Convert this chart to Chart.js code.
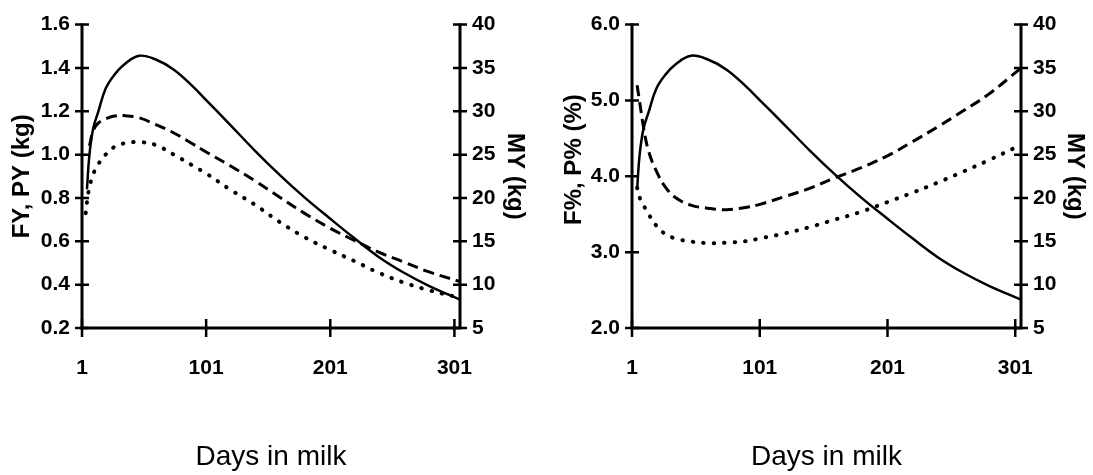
<!DOCTYPE html>
<html>
<head>
<meta charset="utf-8">
<script src="https://cdn.jsdelivr.net/npm/chart.js@4.4.1/dist/chart.umd.min.js"></script>
<style>
  html, body { margin: 0; padding: 0; background: #fff; }
  #wrap { position: relative; width: 1093px; height: 475px; }
  #izq { position: absolute; left: 0; top: 0; }
  #der { position: absolute; left: 546px; top: 0; }
</style>
</head>
<body>
<div id="wrap">
  <canvas id="izq" width="546" height="475"></canvas>
  <canvas id="der" width="547" height="475"></canvas>
</div>
<script>
// Datos (dias en leche)
const days = [4, 5, 7, 10, 14, 20, 27, 35, 47, 60, 75, 90, 101, 120, 140, 160, 180, 201, 220, 240, 260, 280, 305];

// Produccion de leche MY (kg) - linea continua en ambos graficos
const milkYield = [null, 21.0, 25.0, 28.0, 29.9, 32.6, 34.2, 35.4, 36.4, 36.0, 34.8, 32.9, 31.3, 28.5, 25.5, 22.7, 20.1, 17.6, 15.4, 13.2, 11.4, 9.9, 8.3];

// Grafico izquierdo: FY y PY (kg)
const fatYield = [null, null, 1.04, 1.11, 1.145, 1.165, 1.178, 1.18, 1.17, 1.14, 1.10, 1.05, 1.012, 0.95, 0.88, 0.805, 0.73, 0.66, 0.605, 0.55, 0.505, 0.46, 0.415];
const proteinYield = [0.73, 0.78, 0.85, 0.91, 0.955, 1.0, 1.035, 1.052, 1.058, 1.045, 1.0, 0.95, 0.913, 0.84, 0.77, 0.69, 0.62, 0.56, 0.51, 0.455, 0.41, 0.375, 0.34];

// Grafico derecho: F% y P% (%)
const fatPct = [null, 5.2, 4.98, 4.65, 4.33, 4.07, 3.86, 3.72, 3.62, 3.58, 3.56, 3.59, 3.63, 3.73, 3.84, 3.98, 4.11, 4.27, 4.45, 4.65, 4.86, 5.08, 5.42];
const proteinPct = [null, 3.85, 3.72, 3.62, 3.50, 3.35, 3.24, 3.18, 3.14, 3.12, 3.125, 3.145, 3.18, 3.245, 3.33, 3.43, 3.53, 3.66, 3.78, 3.915, 4.06, 4.21, 4.41];

// Ticks
const dayTicks = [1, 101, 201, 301];
const yieldTicks = [0.2, 0.4, 0.6, 0.8, 1.0, 1.2, 1.4, 1.6];
const pctTicks = [2.0, 3.0, 4.0, 5.0, 6.0];
const myTicks = [5, 10, 15, 20, 25, 30, 35, 40];

const fuenteTicks = { family: "'Liberation Sans', Arial, sans-serif", size: 21, weight: "bold" };
const fuenteTitulo = { family: "'Liberation Sans', Arial, sans-serif", size: 24, weight: "bold" };
const fuenteDias = { family: "'Liberation Sans', Arial, sans-serif", size: 28, weight: "normal" };

function puntos(arr) {
  return days.map((d, i) => ({ x: d, y: arr[i] }));
}

function fijarTicks(lista) {
  return (scale) => { scale.ticks = lista.map((v) => ({ value: v })); };
}

// Ejes con marcas que cruzan la linea
const ejes = {
  id: "ejes",
  afterDraw(chart) {
    const { ctx, chartArea: a, scales } = chart;
    ctx.save();
    ctx.strokeStyle = "#000";
    ctx.lineWidth = 3;
    ctx.beginPath();
    ctx.moveTo(a.left, a.top - 1);
    ctx.lineTo(a.left, a.bottom + 1.5);
    ctx.moveTo(a.right, a.top - 1);
    ctx.lineTo(a.right, a.bottom + 1.5);
    ctx.moveTo(a.left - 1.5, a.bottom);
    ctx.lineTo(a.right + 1.5, a.bottom);
    ctx.stroke();

    ctx.lineWidth = 2.5;
    ctx.beginPath();
    scales.y.ticks.forEach((t) => {
      const p = scales.y.getPixelForValue(t.value);
      ctx.moveTo(a.left - 7, p);
      ctx.lineTo(a.left + 7, p);
    });
    scales.y1.ticks.forEach((t) => {
      const p = scales.y1.getPixelForValue(t.value);
      ctx.moveTo(a.right - 7, p);
      ctx.lineTo(a.right + 7, p);
    });
    scales.x.ticks.forEach((t) => {
      const p = scales.x.getPixelForValue(t.value);
      ctx.moveTo(p, a.bottom - 9);
      ctx.lineTo(p, a.bottom + 9);
    });
    ctx.stroke();
    ctx.restore();
  }
};

function configGrafico(opc) {
  return {
    type: "line",
    data: {
      datasets: [
        {
          label: "MY",
          data: puntos(milkYield),
          yAxisID: "y1",
          borderColor: "#000",
          borderWidth: 2.5,
          pointRadius: 0,
          tension: 0.4
        },
        {
          label: opc.nombres[0],
          data: puntos(opc.serieA),
          yAxisID: "y",
          borderColor: "#000",
          borderWidth: 3,
          borderDash: [11, 6],
          pointRadius: 0,
          tension: 0.4
        },
        {
          label: opc.nombres[1],
          data: puntos(opc.serieB),
          yAxisID: "y",
          borderColor: "#000",
          borderWidth: 4,
          borderDash: [0.5, 10],
          borderCapStyle: "round",
          pointRadius: 0,
          tension: 0.4
        }
      ]
    },
    options: {
      responsive: false,
      animation: false,
      events: [],
      layout: { padding: { top: 23, left: 0, right: 0, bottom: 0 } },
      plugins: { legend: { display: false }, tooltip: { enabled: false } },
      scales: {
        x: {
          type: "linear",
          min: 1,
          max: 305.5,
          afterBuildTicks: fijarTicks(dayTicks),
          afterFit: (s) => { s.height = 147; },
          grid: { display: false, drawTicks: false },
          border: { display: false },
          ticks: { font: fuenteTicks, color: "#000", padding: 28, maxRotation: 0 },
          title: { display: true, text: "Days in milk", font: fuenteDias, color: "#000", padding: { top: 0, bottom: 1 } }
        },
        y: {
          position: "left",
          min: opc.rango[0],
          max: opc.rango[1],
          afterBuildTicks: fijarTicks(opc.ticks),
          afterFit: (s) => { s.width = opc.anchoIzq; },
          grid: { display: false, drawTicks: false },
          border: { display: false },
          ticks: { font: fuenteTicks, color: "#000", padding: 12, callback: (v) => Number(v).toFixed(1) },
          title: { display: true, text: opc.tituloIzq, font: fuenteTitulo, color: "#000", padding: { top: opc.padIzq, bottom: 0 } }
        },
        y1: {
          position: "right",
          min: 5,
          max: 40,
          afterBuildTicks: fijarTicks(myTicks),
          afterFit: (s) => { s.width = opc.anchoDer; },
          grid: { display: false, drawTicks: false },
          border: { display: false },
          ticks: { font: fuenteTicks, color: "#000", padding: 12 },
          title: { display: true, text: "MY (kg)", font: fuenteTitulo, color: "#000", padding: { top: opc.padDer, bottom: 0 } }
        }
      }
    },
    plugins: [ejes]
  };
}

new Chart(document.getElementById("izq").getContext("2d"), configGrafico({
  nombres: ["FY", "PY"],
  serieA: fatYield,
  serieB: proteinYield,
  rango: [0.2, 1.6],
  ticks: yieldTicks,
  tituloIzq: "FY, PY (kg)",
  anchoIzq: 82,
  anchoDer: 86,
  padIzq: 8,
  padDer: 17
}));

new Chart(document.getElementById("der").getContext("2d"), configGrafico({
  nombres: ["F%", "P%"],
  serieA: fatPct,
  serieB: proteinPct,
  rango: [2.0, 6.0],
  ticks: pctTicks,
  tituloIzq: "     F%, P% (%)",
  anchoIzq: 86,
  anchoDer: 72,
  padIzq: 14,
  padDer: 4
}));
</script>
</body>
</html>
